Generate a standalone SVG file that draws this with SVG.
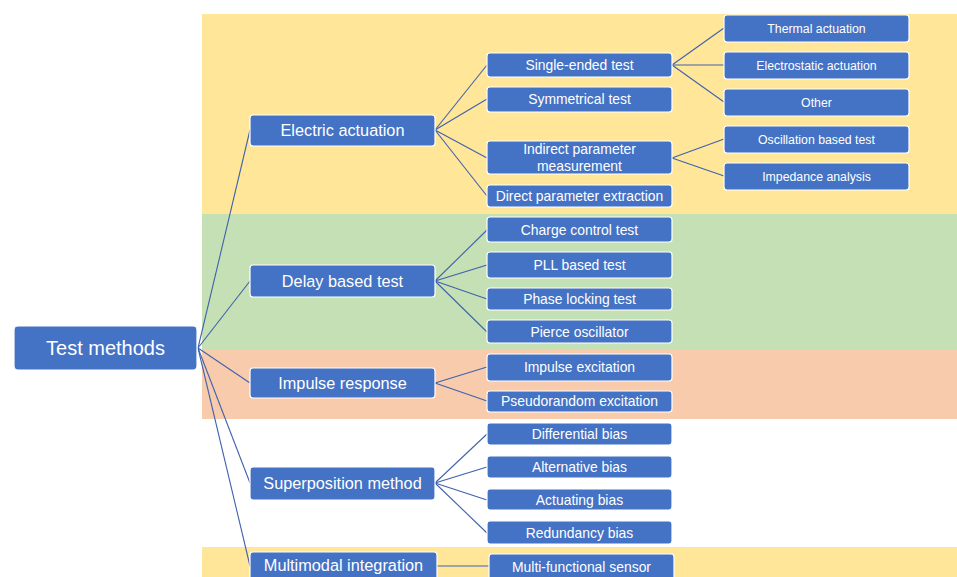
<svg xmlns="http://www.w3.org/2000/svg" width="957" height="577" viewBox="0 0 957 577">
<style>
.n rect{fill:#4472C4;stroke:#FFFFFF;stroke-width:1.2}
.n text{fill:#FFFFFF;font-family:"Liberation Sans",Arial,sans-serif;text-anchor:middle}
.r text{font-size:20px}
.l1 text{font-size:16.3px}
.l2 text{font-size:13.9px}
.l3 text{font-size:12.3px}
#connectors line{stroke:#3F62AD;stroke-width:1.1}
</style>
<rect x="0" y="0" width="957" height="577" fill="#FFFFFF"/>
<g id="bands">
<rect x="202" y="14" width="755" height="200" fill="#FFE699"/>
<rect x="202" y="214" width="755" height="135" fill="#C5E0B4"/>
<rect x="202" y="349" width="755" height="70" fill="#F8CBAD"/>
<rect x="202" y="547" width="755" height="30" fill="#FFE699"/>
</g>
<g id="connectors">
<line x1="198" y1="348" x2="250" y2="130"/>
<line x1="198" y1="348" x2="250" y2="281"/>
<line x1="198" y1="348" x2="250" y2="383"/>
<line x1="198" y1="348" x2="250" y2="483"/>
<line x1="198" y1="348" x2="250" y2="566"/>
<line x1="435" y1="130" x2="487" y2="65"/>
<line x1="435" y1="130" x2="487" y2="99"/>
<line x1="435" y1="130" x2="487" y2="158"/>
<line x1="435" y1="130" x2="487" y2="196"/>
<line x1="672" y1="65" x2="724" y2="28"/>
<line x1="672" y1="65" x2="724" y2="65"/>
<line x1="672" y1="65" x2="724" y2="102"/>
<line x1="672" y1="158" x2="724" y2="139"/>
<line x1="672" y1="158" x2="724" y2="176"/>
<line x1="435" y1="281" x2="487" y2="230"/>
<line x1="435" y1="281" x2="487" y2="265"/>
<line x1="435" y1="281" x2="487" y2="299"/>
<line x1="435" y1="281" x2="487" y2="332"/>
<line x1="435" y1="383" x2="487" y2="367"/>
<line x1="435" y1="383" x2="487" y2="401"/>
<line x1="435" y1="483" x2="487" y2="434"/>
<line x1="435" y1="483" x2="487" y2="467"/>
<line x1="435" y1="483" x2="487" y2="500"/>
<line x1="435" y1="483" x2="487" y2="533"/>
<line x1="437" y1="566" x2="489" y2="566"/>
</g>
<g id="root" class="n r"><rect x="14" y="326" width="183" height="44" rx="4"/><text x="105.5" y="355">Test methods</text></g>
<g id="electric" class="n l1"><rect x="250" y="115" width="185" height="31" rx="3"/><text x="342.5" y="136">Electric actuation</text></g>
<g id="delay" class="n l1"><rect x="250" y="265" width="185" height="32" rx="3"/><text x="342.5" y="287">Delay based test</text></g>
<g id="impulse" class="n l1"><rect x="250" y="368" width="185" height="30" rx="3"/><text x="342.5" y="389">Impulse response</text></g>
<g id="superposition" class="n l1"><rect x="250" y="467" width="185" height="33" rx="3"/><text x="342.5" y="489">Superposition method</text></g>
<g id="multimodal" class="n l1"><rect x="250" y="552" width="187" height="32" rx="3"/><text x="343.5" y="571">Multimodal integration</text></g>
<g id="single" class="n l2"><rect x="487" y="53" width="185" height="24" rx="3"/><text x="579.5" y="70">Single-ended test</text></g>
<g id="symmetrical" class="n l2"><rect x="487" y="87" width="185" height="25" rx="3"/><text x="579.5" y="104">Symmetrical test</text></g>
<g id="indirect" class="n l2"><rect x="487" y="141" width="185" height="33" rx="3"/><text x="579.5" y="154">Indirect parameter</text><text x="579.5" y="171">measurement</text></g>
<g id="direct" class="n l2"><rect x="487" y="185" width="185" height="22" rx="3"/><text x="579.5" y="201">Direct parameter extraction</text></g>
<g id="thermal" class="n l3"><rect x="724" y="15" width="185" height="27" rx="3"/><text x="816.5" y="32.5">Thermal actuation</text></g>
<g id="electrostatic" class="n l3"><rect x="724" y="52" width="185" height="27" rx="3"/><text x="816.5" y="69.5">Electrostatic actuation</text></g>
<g id="other" class="n l3"><rect x="724" y="89" width="185" height="27" rx="3"/><text x="816.5" y="106.5">Other</text></g>
<g id="oscillation" class="n l3"><rect x="724" y="126" width="185" height="27" rx="3"/><text x="816.5" y="143.5">Oscillation based test</text></g>
<g id="impedance" class="n l3"><rect x="724" y="163" width="185" height="27" rx="3"/><text x="816.5" y="180.5">Impedance analysis</text></g>
<g id="charge" class="n l2"><rect x="487" y="217" width="185" height="25" rx="3"/><text x="579.5" y="235">Charge control test</text></g>
<g id="pll" class="n l2"><rect x="487" y="252" width="185" height="26" rx="3"/><text x="579.5" y="270">PLL based test</text></g>
<g id="phase" class="n l2"><rect x="487" y="288" width="185" height="22" rx="3"/><text x="579.5" y="304">Phase locking test</text></g>
<g id="pierce" class="n l2"><rect x="487" y="320" width="185" height="23" rx="3"/><text x="579.5" y="337">Pierce oscillator</text></g>
<g id="impulseexc" class="n l2"><rect x="487" y="354" width="185" height="27" rx="3"/><text x="579.5" y="372">Impulse excitation</text></g>
<g id="pseudorandom" class="n l2"><rect x="487" y="391" width="185" height="21" rx="3"/><text x="579.5" y="406">Pseudorandom excitation</text></g>
<g id="differential" class="n l2"><rect x="487" y="423" width="185" height="22" rx="3"/><text x="579.5" y="439">Differential bias</text></g>
<g id="alternative" class="n l2"><rect x="487" y="456" width="185" height="22" rx="3"/><text x="579.5" y="472">Alternative bias</text></g>
<g id="actuating" class="n l2"><rect x="487" y="489" width="185" height="21" rx="3"/><text x="579.5" y="505">Actuating bias</text></g>
<g id="redundancy" class="n l2"><rect x="487" y="521" width="185" height="23" rx="3"/><text x="579.5" y="538">Redundancy bias</text></g>
<g id="multifunctional" class="n l2"><rect x="489" y="554" width="185" height="30" rx="3"/><text x="581.5" y="572">Multi-functional sensor</text></g>
</svg>
